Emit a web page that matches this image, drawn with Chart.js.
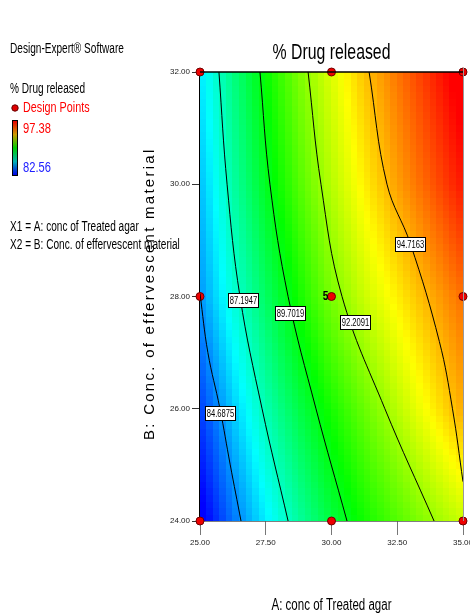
<!DOCTYPE html>
<html>
<head>
<meta charset="utf-8">
<script src="https://cdn.jsdelivr.net/npm/chart.js@4.4.1/dist/chart.umd.min.js"></script>
<style>
  body { margin: 0; background: #fff; }
  canvas { display: block; }
</style>
</head>
<body>
<canvas id="contourChart" width="470" height="615"></canvas>
<script>
const aValues = [25, 26.25, 27.5, 28.75, 30, 31.25, 32.5, 33.75, 35];
const bValues = [24, 26, 28, 30, 32];
const drugReleased = [
    [82.16, 84.19, 86.01, 87.64, 89.04, 90.20, 91.15, 92.10, 92.90],
    [83.42, 85.46, 87.36, 88.89, 90.27, 91.46, 92.64, 93.77, 94.90],
    [84.69, 86.75, 88.53, 90.19, 91.72, 92.89, 93.88, 94.86, 95.76],
    [85.28, 87.53, 89.45, 91.11, 92.61, 93.86, 95.04, 96.05, 97.06],
    [85.90, 88.04, 90.00, 91.72, 93.17, 94.52, 95.65, 96.73, 97.80]
];
const colorMin = 82.56;
const colorMax = 97.38;

// Contour lines (A, B points along each level)
const contourLevels = ['84.6875', '87.1947', '89.7019', '92.2091', '94.7163'];
const contour1 = [[25.0, 28.05], [25.3, 27.0], [25.76, 26.0], [26.15, 25.0], [26.56, 24.0]];
const contour2 = [[25.72, 32], [26.03, 30], [26.52, 28], [27.36, 26], [28.35, 24]];
const contour3 = [[27.28, 32], [27.66, 30], [28.35, 28], [29.41, 26], [30.59, 24]];
const contour4 = [[29.11, 32], [29.6, 30], [30.4, 28], [32.03, 26], [33.9, 24]];
const contour5 = [[31.43, 32], [32.11, 30], [33.0, 28.94], [34.1, 27.2], [34.6, 26.0], [35, 24.7]];

// Design points
const designA = [25, 30, 35, 25, 30, 35, 25, 30, 35];
const designB = [24, 24, 24, 28, 28, 28, 32, 32, 32];

// where the contour labels sit (data coords)
const labelSpots = [[25.76, 25.93], [26.62, 27.94], [28.42, 27.71], [30.89, 27.55], [32.98, 28.94]];

function toPoints(arr) {
    return arr.map(p => ({ x: p[0], y: p[1] }));
}

function colorFor(v) {
    let t = (v - colorMin) / (colorMax - colorMin);
    t = Math.max(0, Math.min(1, t));
    return 'hsl(' + (240 * (1 - t)).toFixed(1) + ',100%,50%)';
}

function lookup(arr, v) {
    let i = 0;
    while (i < arr.length - 2 && v > arr[i + 1]) i++;
    return [i, (v - arr[i]) / (arr[i + 1] - arr[i])];
}

function responseAt(a, b) {
    const [i, fx] = lookup(aValues, a);
    const [j, fy] = lookup(bValues, b);
    const v00 = drugReleased[j][i], v10 = drugReleased[j][i + 1];
    const v01 = drugReleased[j + 1][i], v11 = drugReleased[j + 1][i + 1];
    return v00 * (1 - fx) * (1 - fy) + v10 * fx * (1 - fy) + v01 * (1 - fx) * fy + v11 * fx * fy;
}

// squeeze Liberation Sans sideways to look like Arial Narrow
function narrowText(ctx, text, x, y, size, color, align, bold, squeeze) {
    const k = squeeze || 0.72;
    ctx.save();
    ctx.font = (bold ? 'bold ' : '') + size + 'px "Liberation Sans", Arial, sans-serif';
    ctx.fillStyle = color;
    ctx.textBaseline = 'middle';
    const w = ctx.measureText(text).width * k;
    let x0 = x;
    if (align === 'center') x0 = x - w / 2;
    if (align === 'right') x0 = x - w;
    ctx.translate(x0, y);
    ctx.scale(k, 1);
    ctx.textAlign = 'left';
    ctx.fillText(text, 0, 0);
    ctx.restore();
}

const heatmapPlugin = {
    id: 'heatmap',
    beforeDatasetsDraw(chart) {
        const ctx = chart.ctx;
        const xs = chart.scales.x, ys = chart.scales.y;
        const cols = 40, rows = 68;
        const dA = (35 - 25) / cols, dB = (32 - 24) / rows;
        ctx.save();
        for (let i = 0; i < cols; i++) {
            for (let j = 0; j < rows; j++) {
                const a = 25 + (i + 0.5) * dA;
                const b = 24 + (j + 0.5) * dB;
                const x1 = Math.floor(xs.getPixelForValue(25 + i * dA));
                const x2 = Math.ceil(xs.getPixelForValue(25 + (i + 1) * dA));
                const y1 = Math.floor(ys.getPixelForValue(24 + (j + 1) * dB));
                const y2 = Math.ceil(ys.getPixelForValue(24 + j * dB));
                ctx.fillStyle = colorFor(responseAt(a, b));
                ctx.fillRect(x1, y1, x2 - x1, y2 - y1);
            }
        }
        ctx.restore();
    },
    afterDatasetsDraw(chart) {
        const ctx = chart.ctx;
        const xs = chart.scales.x, ys = chart.scales.y;
        const area = chart.chartArea;

        // frame
        ctx.save();
        ctx.lineWidth = 1.5;
        ctx.strokeStyle = '#000';
        ctx.beginPath();
        ctx.moveTo(area.left, area.top);
        ctx.lineTo(area.right, area.top);
        ctx.stroke();
        ctx.strokeStyle = '#999';
        ctx.lineWidth = 1;
        ctx.beginPath();
        ctx.moveTo(area.right + 0.5, area.top - 4);
        ctx.lineTo(area.right + 0.5, area.bottom);
        ctx.stroke();
        ctx.restore();

        // contour labels
        labelSpots.forEach((p, k) => {
            const x = Math.round(xs.getPixelForValue(p[0]));
            const y = Math.round(ys.getPixelForValue(p[1]));
            ctx.save();
            ctx.fillStyle = '#fff';
            ctx.fillRect(x - 15, y - 7, 30, 14);
            ctx.strokeStyle = '#000';
            ctx.lineWidth = 1;
            ctx.strokeRect(x - 15 + 0.5, y - 7 + 0.5, 30, 14);
            ctx.restore();
            narrowText(ctx, contourLevels[k], x + 0.5, y + 1, 11.5, '#000', 'center', false, 0.66);
        });

        // replicate count at centre point
        narrowText(ctx, '5', xs.getPixelForValue(30) - 3, ys.getPixelForValue(28), 12, '#000', 'right', true, 0.85);
    },
    afterDraw(chart) {
        const ctx = chart.ctx;
        const area = chart.chartArea;

        // title
        narrowText(ctx, '% Drug released', (area.left + area.right) / 2, 53, 22, '#000', 'center');
        // x axis title
        narrowText(ctx, 'A: conc of Treated agar', (area.left + area.right) / 2, 606, 16, '#000', 'center');

        // y axis title, spread out
        ctx.save();
        ctx.translate(150, 295);
        ctx.rotate(-Math.PI / 2);
        ctx.font = '15px "Liberation Sans", Arial, sans-serif';
        ctx.fillStyle = '#000';
        ctx.textBaseline = 'middle';
        const yTitle = 'B: Conc. of effervescent material';
        const chars = yTitle.split('');
        const base = ctx.measureText(yTitle).width;
        const gap = (290 - base) / (chars.length - 1);
        let cx = -145;
        chars.forEach(c => {
            ctx.fillText(c, cx, 0);
            cx += ctx.measureText(c).width + gap;
        });
        ctx.restore();

        // left-hand legend
        narrowText(ctx, 'Design-Expert\u00AE Software', 10, 49, 14, '#000', 'left');
        narrowText(ctx, '% Drug released', 10, 89, 14, '#000', 'left');
        ctx.save();
        ctx.beginPath();
        ctx.arc(15, 108, 3.2, 0, Math.PI * 2);
        ctx.fillStyle = '#e00000';
        ctx.fill();
        ctx.strokeStyle = '#600';
        ctx.lineWidth = 1;
        ctx.stroke();
        ctx.restore();
        narrowText(ctx, 'Design Points', 23, 108, 15, '#ff0000', 'left');

        ctx.save();
        const grad = ctx.createLinearGradient(0, 121, 0, 175);
        grad.addColorStop(0, 'hsl(0,100%,45%)');
        grad.addColorStop(0.25, 'hsl(45,100%,40%)');
        grad.addColorStop(0.5, 'hsl(120,100%,40%)');
        grad.addColorStop(0.75, 'hsl(180,100%,35%)');
        grad.addColorStop(1, 'hsl(240,100%,45%)');
        ctx.fillStyle = grad;
        ctx.fillRect(13, 121, 4.5, 54);
        ctx.strokeStyle = '#000';
        ctx.lineWidth = 1;
        ctx.strokeRect(12.5, 120.5, 5, 55);
        ctx.restore();
        narrowText(ctx, '97.38', 23, 129, 15.5, '#ff0000', 'left');
        narrowText(ctx, '82.56', 23, 168, 15.5, '#2020ff', 'left');

        narrowText(ctx, 'X1 = A: conc of Treated agar', 10, 227, 14, '#000', 'left');
        narrowText(ctx, 'X2 = B: Conc. of effervescent material', 10, 245, 14, '#000', 'left');
    }
};

const contourStyle = {
    showLine: true,
    borderColor: '#000',
    borderWidth: 1,
    pointRadius: 0,
    tension: 0.4,
    fill: false
};

const tickFont = { family: '"Liberation Sans Narrow", "Liberation Sans", Arial, sans-serif', size: 8 };

new Chart(document.getElementById('contourChart'), {
    type: 'scatter',
    data: {
        datasets: [
            Object.assign({ label: contourLevels[0], data: toPoints(contour1) }, contourStyle),
            Object.assign({ label: contourLevels[1], data: toPoints(contour2) }, contourStyle),
            Object.assign({ label: contourLevels[2], data: toPoints(contour3) }, contourStyle),
            Object.assign({ label: contourLevels[3], data: toPoints(contour4) }, contourStyle),
            Object.assign({ label: contourLevels[4], data: toPoints(contour5) }, contourStyle),
            {
                label: 'Design Points',
                data: designA.map((a, i) => ({ x: a, y: designB[i] })),
                pointRadius: 4,
                pointBackgroundColor: '#ee0000',
                pointBorderColor: '#700000',
                pointBorderWidth: 1,
                showLine: false,
                clip: false
            }
        ]
    },
    options: {
        responsive: false,
        animation: false,
        layout: { padding: { left: 0, top: 72, right: 7, bottom: 0 } },
        plugins: {
            legend: { display: false },
            tooltip: { enabled: false }
        },
        scales: {
            x: {
                type: 'linear',
                min: 25,
                max: 35,
                ticks: {
                    stepSize: 2.5,
                    padding: 3,
                    maxRotation: 0,
                    color: '#222',
                    font: tickFont,
                    callback: v => Number(v).toFixed(2)
                },
                grid: { drawOnChartArea: false, drawTicks: true, tickLength: 14, tickColor: '#777' },
                border: { display: true, color: '#000', width: 1.5 },
                afterFit: function(scale) {
                    scale.height = 94;
                    scale.paddingLeft = 0;
                    scale.paddingRight = 0;
                }
            },
            y: {
                type: 'linear',
                min: 24,
                max: 32,
                ticks: {
                    stepSize: 2,
                    padding: 2,
                    color: '#222',
                    font: tickFont,
                    callback: v => Number(v).toFixed(2)
                },
                grid: { drawOnChartArea: false, drawTicks: true, tickLength: 8, tickColor: '#333' },
                border: { display: true, color: '#000', width: 1.5 },
                afterFit: function(scale) {
                    scale.width = 200;
                    scale.paddingTop = 0;
                    scale.paddingBottom = 0;
                }
            }
        }
    },
    plugins: [heatmapPlugin]
});
</script>
</body>
</html>
